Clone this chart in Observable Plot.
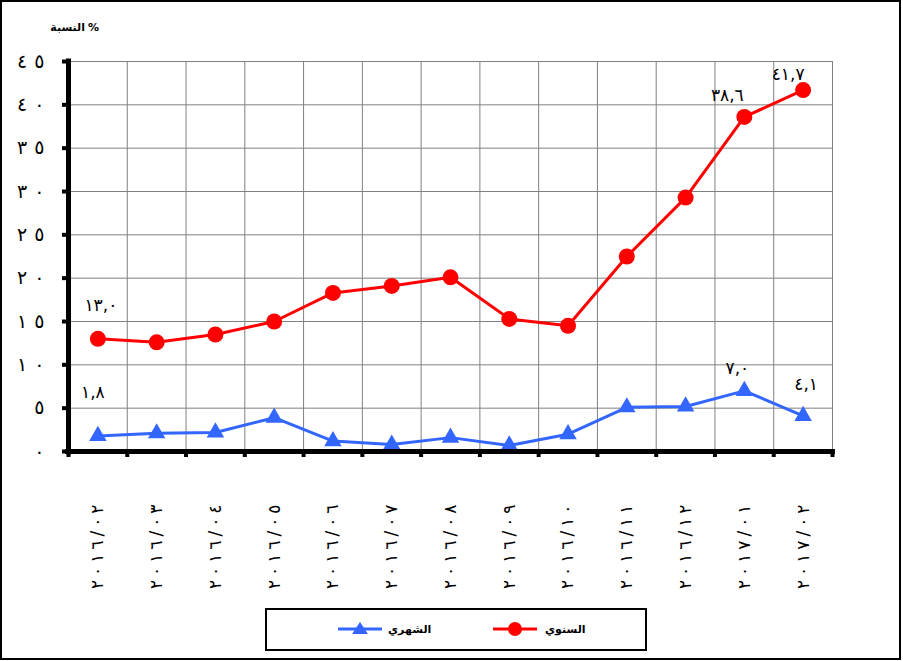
<!DOCTYPE html>
<html><head><meta charset="utf-8">
<script src="https://cdn.jsdelivr.net/npm/d3@7"></script>
<script src="https://cdn.jsdelivr.net/npm/@observablehq/plot@0.6"></script>
<style>
body{margin:0;background:#fff;font-family:"DejaVu Sans",sans-serif;}
#wrap{position:relative;width:903px;height:661px;overflow:hidden;background:#fff}
#frame{position:absolute;left:0;top:0;width:897px;height:656px;border:2px solid #000;}
#chart{position:absolute;left:0;top:0}
.tt{position:absolute;top:21px;font-size:11px;font-weight:bold;white-space:nowrap}
#legend{position:absolute;left:265px;top:608px;width:378px;height:39px;border:2px solid #000;background:#fff}
.lg{position:absolute;top:13px;font-size:11px;font-weight:bold;white-space:nowrap}
.ls{position:absolute;top:9px}
</style></head><body>
<div id="wrap">
<div id="frame"></div>
<div id="chart"></div>
<div class="tt" style="left:0;width:85px;text-align:right">النسبة</div>
<div class="tt" style="left:88px">%</div>
<div id="legend">
  <svg class="ls" style="left:71px" width="44" height="20"><line x1="0" y1="10" x2="44" y2="10" stroke="#3366ff" stroke-width="3"/><path d="M22,3 L30,15 L14,15 Z" fill="#3366ff"/></svg>
  <div class="lg" style="left:121px">الشهري</div>
  <svg class="ls" style="left:226px" width="44" height="20"><line x1="0" y1="10" x2="44" y2="10" stroke="#ff0000" stroke-width="3"/><circle cx="22" cy="10" r="7" fill="#ff0000"/></svg>
  <div class="lg" style="left:278px">السنوي</div>
</div>
</div>
<script>
const months = ["٢٠١٦/٠٢","٢٠١٦/٠٣","٢٠١٦/٠٤","٢٠١٦/٠٥","٢٠١٦/٠٦","٢٠١٦/٠٧","٢٠١٦/٠٨","٢٠١٦/٠٩","٢٠١٦/١٠","٢٠١٦/١١","٢٠١٦/١٢","٢٠١٧/٠١","٢٠١٧/٠٢"];
const annual = [13.0, 12.6, 13.5, 15.0, 18.3, 19.1, 20.1, 15.3, 14.5, 22.5, 29.3, 38.6, 41.7];
const monthly = [1.8, 2.1, 2.2, 3.9, 1.2, 0.8, 1.6, 0.7, 2.0, 5.1, 5.2, 7.0, 4.1];
const yTicks = [0, 5, 10, 15, 20, 25, 30, 35, 40, 45];
const annualLabeled = [0, 11, 12];
const monthlyLabeled = [0, 11, 12];

const digits = "٠١٢٣٤٥٦٧٨٩";
const toAr = s => String(s).replace(/[0-9]/g, d => digits[+d]).replace(".", ",");

const annualData = annual.map((v, i) => ({i: i + 1, v}));
const monthlyData = monthly.map((v, i) => ({i: i + 1, v}));
const idx = months.map((m, i) => i + 1);
const bounds = d3.range(0, months.length + 1).map(k => k + 0.5);

const font = "DejaVu Sans";
const lab = (data, k, dx, dy) => Plot.text([data[k]], {x: "i", y: "v", text: d => toAr(d.v.toFixed(1)), dx, dy, fontSize: 17, fontFamily: font, fill: "#000"});

const chart = Plot.plot({
  width: 903, height: 610,
  marginLeft: 68, marginRight: 71, marginTop: 61, marginBottom: 159,
  style: {fontFamily: font, background: "transparent", overflow: "visible"},
  x: {domain: [0.5, 13.5]},
  y: {domain: [0, 45]},
  marks: [
    Plot.gridY(yTicks, {stroke: "#808080", strokeOpacity: 1}),
    Plot.gridX(bounds, {stroke: "#808080", strokeOpacity: 1}),
    Plot.line(annualData, {x: "i", y: "v", stroke: "#ff0000", strokeWidth: 3}),
    Plot.dot(annualData, {x: "i", y: "v", r: 8, fill: "#ff0000", stroke: null}),
    Plot.line(monthlyData, {x: "i", y: "v", stroke: "#3366ff", strokeWidth: 3}),
    Plot.dot(monthlyData, {x: "i", y: "v", symbol: "triangle", r: 6.5, fill: "#3366ff", stroke: null}),
    lab(annualData, annualLabeled[0], 3, -33),
    lab(annualData, annualLabeled[1], -17, -21),
    lab(annualData, annualLabeled[2], -15, -16),
    lab(monthlyData, monthlyLabeled[0], -5, -43),
    lab(monthlyData, monthlyLabeled[1], -7, -22),
    lab(monthlyData, monthlyLabeled[2], 3, -31),
    Plot.axisY(yTicks, {tickSize: 6, strokeWidth: 4, tickPadding: 18, tickFormat: t => toAr(t), fontSize: 19, label: null}),
    Plot.axisX(bounds, {tickSize: 6, strokeWidth: 4, tickFormat: () => "", label: null}),
    Plot.axisX(idx, {tickSize: 0, tickRotate: -90, tickPadding: 53, tickFormat: i => months[i - 1], fontSize: 17, label: null}),
    Plot.ruleX([0.5], {y1: -0.4, y2: 45.3, strokeWidth: 5}),
    Plot.ruleY([0], {x1: 0.45, x2: 13.55, strokeWidth: 5})
  ]
});
// Arabic-script text ignores letter-spacing, so space the characters with tspans
const yLabelSet = new Set(yTicks.map(t => toAr(t)));
const xLabelSet = new Set(months);
const spread = (el, gap) => {
  const chars = [...el.textContent];
  el.textContent = "";
  chars.forEach((c, k) => {
    const t = document.createElementNS("http://www.w3.org/2000/svg", "tspan");
    if (k > 0) t.setAttribute("dx", gap);
    t.textContent = c;
    el.appendChild(t);
  });
};
chart.querySelectorAll("text").forEach(el => {
  const s = el.textContent;
  if (xLabelSet.has(s)) spread(el, 4);
  else if (yLabelSet.has(s) && s.length > 1) spread(el, 7);
});
document.getElementById("chart").appendChild(chart);
</script>
</body></html>
